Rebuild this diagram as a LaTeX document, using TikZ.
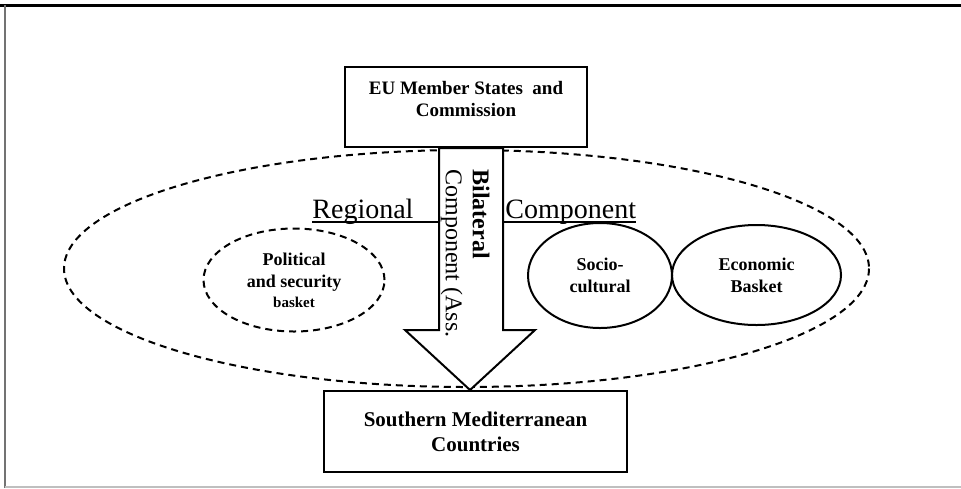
\documentclass[tikz,border=0pt]{standalone}
\usepackage{fontspec}
\setmainfont{Liberation Serif}
\usetikzlibrary{shapes.geometric}

\begin{document}
\begin{tikzpicture}[x=0.5pt,y=-0.5pt,
  kasten/.style={draw,fill=white,line width=1pt,inner sep=0pt,align=center},
  korb/.style={ellipse,line width=1pt,inner sep=0pt,align=center,font=\bfseries\fontsize{9}{11}\selectfont},
  gestrichelt/.style={dash pattern=on 3.5pt off 2.5pt,line width=1pt},
  komponente/.style={font=\fontsize{14}{16}\selectfont,inner sep=0pt,anchor=base west}]
  \useasboundingbox (0,0) rectangle (961,488);
  % Rahmen
  \draw[line width=1.5pt] (0,5) -- (961,5);
  \draw[line width=1.2pt,black!55] (5,5) -- (5,488);
  \draw[line width=1pt,black!25] (5,487) -- (961,487);
  % grosse Ellipse
  \draw[gestrichelt] (466.5,268.5) ellipse [x radius=402.5,y radius=118.5];
  % Kaesten oben und unten
  \node[kasten,minimum width=121pt,minimum height=40pt,font=\bfseries\fontsize{9.5}{11}\selectfont]
    (eu) at (466,107) {EU Member States\ \ and\\Commission\\[-3pt]};
  \node[kasten,minimum width=151.5pt,minimum height=40.5pt,font=\bfseries\fontsize{10.5}{12.5}\selectfont]
    (smc) at (475.5,431.5) {Southern Mediterranean\\Countries};
  % Pfeil
  \draw[line width=1pt,fill=white] (439,148) -- (503,148) -- (503,330) -- (535,330)
    -- (smc.north -| 470,0) coordinate (spitze) -- (405,330) -- (439,330) -- cycle;
  \node[rotate=-90,anchor=north west,align=left,inner sep=0pt,font=\fontsize{12}{13.5}\selectfont]
    (bilateral) at (490,169) {\textbf{Bilateral}\\Component (Ass.};
  % Regional Component
  \node[komponente] (regional) at (312,218) {Regional};
  \node[komponente] (komp) at (505,218) {Component};
  \draw[line width=1pt] ([yshift=-2pt]regional.base west) -- (439,222);
  \draw[line width=1pt] (503,222) -- ([yshift=-2pt]komp.base east);
  % Koerbe
  \node[korb,draw,gestrichelt,minimum width=90.5pt,minimum height=51.5pt]
    (politik) at (294,280) {Political\\and security\\[-1pt]{\fontsize{7.5}{8}\selectfont basket}};
  \node[korb,draw,minimum width=72pt,minimum height=52.5pt]
    (sozio) at (600,275.5) {Socio-\\cultural};
  \node[korb,draw,minimum width=84.5pt,minimum height=50pt]
    (wirtschaft) at (756.5,275) {Economic\\Basket};
\end{tikzpicture}
\end{document}
